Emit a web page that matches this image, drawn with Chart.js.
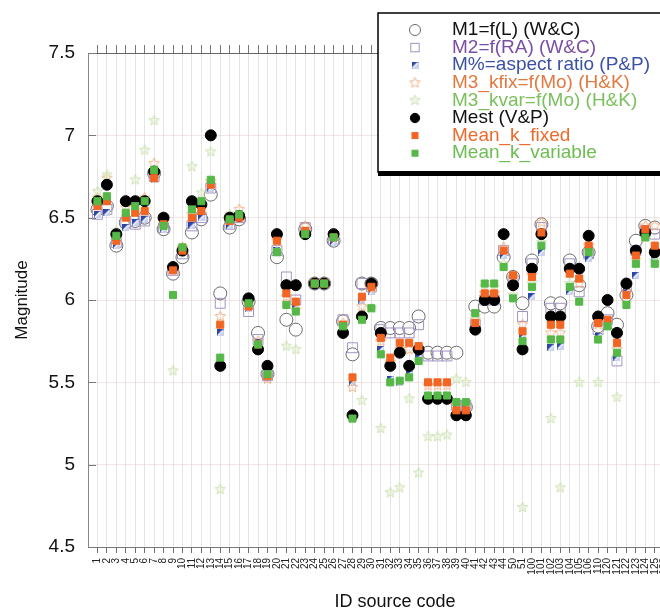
<!DOCTYPE html>
<html>
<head>
<meta charset="utf-8">
<script src="https://cdn.jsdelivr.net/npm/chart.js@4.4.0/dist/chart.umd.min.js"></script>
<style>
  html, body { margin: 0; padding: 0; background: #fff; overflow: hidden; }
  #wrap { width: 720px; height: 613px; }
</style>
</head>
<body>
<div id="wrap"><canvas id="magChart" width="720" height="613"></canvas></div>
<script>
// source ids along the x axis
const xLabels = [
  '1','2','3','4','5','6','7','8','9','10','11','12','13','14','15','16','17','18','19','20',
  '21','22','23','24','25','26','27','28','29','30','31','32','33','34','35','36','37','38','39','40',
  '41','42','43','44','50','51','100','101','102','103','104','105','106','110','120','121','122','123','124','125',
  '130','131','132','133'
];
const yTicks = [4.5, 5, 5.5, 6, 6.5, 7, 7.5];

// magnitudes per method
const m1 = [6.55,6.57,6.33,6.47,6.48,6.50,6.77,6.43,6.16,6.26, 6.41,6.49,6.64,6.04,6.44,6.49,5.99,5.80,5.55,6.26,
  5.88,5.82,6.43,6.10,6.10,6.36,5.87,5.67,6.10,6.10, 5.83,5.83,5.83,5.83,5.90,5.68,5.68,5.68,5.68,5.35,
  5.96,5.96,5.96,6.26,6.14,5.98,6.24,6.46,5.98,5.98, 6.24,6.09,6.29,5.84,5.92,5.85,6.03,6.36,6.45,6.44];
const m2 = [6.52,6.55,6.35,6.47,6.46,6.48,6.75,6.44,6.18,6.28, 6.45,6.50,6.68,5.98,6.46,6.50,5.93,5.76,5.54,6.30,
  6.14,6.00,6.44,6.10,6.10,6.37,5.88,5.71,6.10,6.08, 5.82,5.80,5.80,5.80,5.85,5.66,5.66,5.66,5.36,5.36,
  5.85,6.00,6.00,6.30,6.12,5.90,6.22,6.44,5.95,5.95, 6.22,6.05,6.28,5.82,5.88,5.63,6.08,6.30,6.42,6.40];
const mPct = [6.52,6.53,6.33,6.44,6.47,6.49,6.73,6.43,6.18,6.29, 6.45,6.50,6.68,5.80,6.45,6.50,5.95,5.74,5.56,6.30,
  6.05,5.96,6.42,6.10,6.10,6.35,5.85,5.50,6.00,6.05, 5.70,5.52,5.50,5.55,5.65,5.42,5.42,5.42,5.35,5.35,
  5.83,6.02,6.02,6.27,6.10,5.78,6.02,6.29,5.71,5.72, 6.05,5.99,6.25,5.78,5.84,5.65,6.05,6.15,6.38,6.25];
const m3Kfix = [6.62,6.74,6.38,6.56,6.58,6.62,6.83,6.48,6.20,6.32, 6.52,6.56,6.72,5.90,6.50,6.55,5.97,5.75,5.52,6.36,
  6.02,5.94,6.45,6.11,6.11,6.40,5.86,5.47,5.96,6.07, 5.75,5.62,5.70,5.70,5.70,5.48,5.48,5.48,5.36,5.36,
  5.88,6.04,6.04,6.32,6.14,5.85,6.15,6.47,5.80,5.80, 6.18,6.10,6.33,5.85,5.86,5.70,6.05,6.30,6.45,6.45];
const m3Kvar = [6.66,6.76,6.42,6.60,6.73,6.91,7.09,6.47,5.57,6.30, 6.81,6.65,6.90,4.85,6.52,6.52,6.01,5.70,5.55,6.30,
  5.72,5.70,6.40,6.10,6.10,6.40,5.83,5.30,5.39,5.95, 5.22,4.83,4.86,5.40,4.95,5.17,5.17,5.18,5.52,5.50,
  5.90,6.08,6.08,6.22,6.03,4.74,6.10,6.35,5.28,4.86, 6.10,5.50,6.30,5.50,5.85,5.41,5.98,6.24,6.38,6.24];
const mEst = [6.60,6.70,6.40,6.60,6.60,6.60,6.78,6.50,6.20,6.30, 6.60,6.58,7.00,5.60,6.50,6.51,6.01,5.70,5.60,6.40,
  6.09,6.09,6.40,6.10,6.10,6.40,5.80,5.30,5.90,6.10, 5.80,5.60,5.68,5.60,5.70,5.40,5.40,5.40,5.30,5.30,
  5.82,6.00,6.00,6.40,6.09,5.70,6.19,6.40,5.90,5.90, 6.19,6.19,6.39,5.90,6.00,5.80,6.10,6.30,6.41,6.29];
const meanKFixed = [6.57,6.60,6.36,6.50,6.53,6.54,6.74,6.46,6.18,6.30, 6.50,6.54,6.70,5.85,6.48,6.50,5.96,5.73,5.54,6.36,
  6.04,5.99,6.42,6.10,6.10,6.38,5.85,5.53,6.02,6.08, 5.77,5.65,5.74,5.74,5.72,5.50,5.50,5.50,5.33,5.33,
  5.86,6.04,6.04,6.30,6.15,5.81,6.14,6.41,5.85,5.85, 6.16,6.13,6.33,5.86,5.88,5.74,6.03,6.27,6.43,6.33];
const meanKVar = [6.60,6.63,6.39,6.53,6.57,6.60,6.79,6.45,6.03,6.32, 6.55,6.60,6.73,5.65,6.49,6.52,5.98,5.73,5.55,6.29,
  5.97,5.93,6.40,6.10,6.10,6.38,5.84,5.28,5.88,5.95, 5.67,5.50,5.51,5.53,5.63,5.42,5.42,5.42,5.38,5.38,
  5.92,6.10,6.10,6.20,6.01,5.75,6.08,6.33,5.76,5.76, 6.08,5.99,6.29,5.76,5.84,5.68,5.97,6.22,6.38,6.22];

const FONT = '"Liberation Sans", Arial, Helvetica, sans-serif';

function makeStar(size, stroke, fill) {
  const c = document.createElement('canvas');
  c.width = c.height = size;
  const g = c.getContext('2d');
  const cx = size / 2, cy = size / 2, ro = size / 2 - 1, ri = ro * 0.45;
  g.beginPath();
  for (let i = 0; i < 10; i++) {
    const r = i % 2 ? ri : ro;
    const a = -Math.PI / 2 + i * Math.PI / 5;
    g.lineTo(cx + r * Math.cos(a), cy + r * Math.sin(a));
  }
  g.closePath();
  if (fill) { g.fillStyle = fill; g.fill(); }
  g.strokeStyle = stroke;
  g.lineWidth = 1;
  g.stroke();
  return c;
}

function makeHalfSquare(size) {
  const c = document.createElement('canvas');
  c.width = c.height = size;
  const g = c.getContext('2d');
  g.fillStyle = '#c9d1ef';
  g.fillRect(0, 0, size, size);
  g.fillStyle = '#2b46a6';
  g.beginPath();
  g.moveTo(0, 0); g.lineTo(size, 0); g.lineTo(0, size);
  g.closePath();
  g.fill();
  g.strokeStyle = '#fff';
  g.lineWidth = 1.2;
  g.beginPath();
  g.moveTo(1, size - 1); g.lineTo(size - 1, 1);
  g.stroke();
  return c;
}

const toPoints = arr => arr.map((v, i) => ({ x: i + 1, y: v }));

const series = [
  { label: 'M1=f(L) (W&C)', data: m1, color: '#111', pointStyle: 'circle', radius: 6.5, bg: '#fff', border: '#6b6b6b' },
  { label: 'M2=f(RA) (W&C)', data: m2, color: '#7b4ea6', pointStyle: 'rect', radius: 7, bg: 'rgba(255,255,255,0)', border: '#a193c2' },
  { label: 'M%=aspect ratio (P&P)', data: mPct, color: '#3a51a6', pointStyle: makeHalfSquare(7), radius: 4 },
  { label: 'M3_kfix=f(Mo) (H&K)', data: m3Kfix, color: '#e27a40', pointStyle: makeStar(13, 'rgba(240,160,110,0.8)', 'rgba(255,255,255,0)'), radius: 6 },
  { label: 'M3_kvar=f(Mo) (H&K)', data: m3Kvar, color: '#7cc05e', pointStyle: makeStar(13, 'rgba(200,222,170,0.8)', 'rgba(220,236,200,0.45)'), radius: 6 },
  { label: 'Mest (V&P)', data: mEst, color: '#111', pointStyle: 'circle', radius: 5.5, bg: '#000', border: '#000' },
  { label: 'Mean_k_fixed', data: meanKFixed, color: '#ee6a2b', pointStyle: 'rect', radius: 5, bg: '#f26522', border: '#f26522' },
  { label: 'Mean_k_variable', data: meanKVar, color: '#6dbd52', pointStyle: 'rect', radius: 5, bg: '#55b847', border: '#55b847' }
];

const datasets = series.map((s, i) => ({
  label: s.label,
  data: toPoints(s.data),
  pointStyle: s.pointStyle,
  pointRadius: s.radius,
  pointBackgroundColor: s.bg || '#fff',
  pointBorderColor: s.border || '#fff',
  pointBorderWidth: 1,
  textColor: s.color,
  order: series.length - i
}));

const ticksFromLabels = scale => {
  scale.ticks = xLabels.map((_, i) => ({ value: i + 1 }));
};

// little tick stubs inside the plot on the y axis
const innerTicks = {
  id: 'innerTicks',
  beforeDatasetsDraw(chart) {
    const { ctx, chartArea, scales } = chart;
    ctx.save();
    ctx.strokeStyle = '#7a7a7a';
    ctx.lineWidth = 1;
    yTicks.forEach(v => {
      const y = Math.round(scales.y.getPixelForValue(v)) + 0.5;
      ctx.beginPath();
      ctx.moveTo(chartArea.left, y);
      ctx.lineTo(chartArea.left + 8, y);
      ctx.stroke();
    });
    ctx.restore();
  }
};

// boxed legend in the top right, text coloured per series
const legendBox = {
  id: 'legendBox',
  afterDraw(chart) {
    const ctx = chart.ctx;
    const left = 378, top = 13, bottom = 172, right = chart.width + 20;
    ctx.save();
    ctx.fillStyle = '#fff';
    ctx.fillRect(left, top, right - left, bottom - top);
    ctx.strokeStyle = '#000';
    ctx.lineWidth = 1.5;
    ctx.strokeRect(left, top, right - left, bottom - top);
    ctx.fillStyle = '#000';
    ctx.fillRect(left, bottom - 1, right - left, 5);

    ctx.font = '19px ' + FONT;
    ctx.textBaseline = 'middle';
    chart.data.datasets.forEach((ds, i) => {
      const y = 30 + i * 17.6;
      const sx = 415;
      const st = ds.pointStyle;
      const r = ds.pointRadius * 0.85;
      if (st instanceof HTMLCanvasElement) {
        ctx.drawImage(st, sx - st.width / 2, y - st.height / 2);
      } else if (st === 'circle') {
        ctx.beginPath();
        ctx.arc(sx, y, r, 0, Math.PI * 2);
        ctx.fillStyle = ds.pointBackgroundColor;
        ctx.fill();
        ctx.strokeStyle = ds.pointBorderColor;
        ctx.lineWidth = 1;
        ctx.stroke();
      } else {
        const h = r * Math.SQRT1_2;
        ctx.fillStyle = ds.pointBackgroundColor;
        ctx.fillRect(sx - h, y - h, 2 * h, 2 * h);
        ctx.strokeStyle = ds.pointBorderColor;
        ctx.lineWidth = 1;
        ctx.strokeRect(sx - h, y - h, 2 * h, 2 * h);
      }
      ctx.fillStyle = ds.textColor;
      ctx.fillText(ds.label, 452, y);
    });
    ctx.restore();
  }
};

const ctx = document.getElementById('magChart').getContext('2d');
new Chart(ctx, {
  type: 'scatter',
  data: { datasets: datasets },
  options: {
    responsive: false,
    animation: false,
    layout: { padding: { top: 45, right: 18, left: 0, bottom: 0 } },
    plugins: { legend: { display: false }, tooltip: { enabled: false } },
    scales: {
      x: {
        type: 'linear',
        position: 'bottom',
        min: 0,
        max: xLabels.length + 1,
        afterBuildTicks: ticksFromLabels,
        afterFit: s => { s.height = 66; },
        ticks: {
          autoSkip: false,
          maxRotation: 90,
          minRotation: 90,
          padding: 5,
          color: '#222',
          font: { family: FONT, size: 10 },
          callback: v => xLabels[v - 1]
        },
        grid: { color: '#e4e4e4', tickColor: '#6e6e6e', tickLength: 6 },
        border: { color: '#777' },
        title: {
          display: true,
          text: 'ID source code',
          color: '#111',
          font: { family: FONT, size: 18 },
          padding: { top: 0, bottom: 0 }
        }
      },
      xTop: {
        type: 'linear',
        position: 'top',
        min: 0,
        max: xLabels.length + 1,
        afterBuildTicks: ticksFromLabels,
        afterFit: s => { s.height = 8; },
        ticks: { display: false },
        grid: { drawOnChartArea: false, tickLength: 8, tickColor: '#777', color: '#777' },
        border: { color: '#666' }
      },
      y: {
        min: 4.5,
        max: 7.5,
        afterBuildTicks: s => { s.ticks = yTicks.map(v => ({ value: v })); },
        afterFit: s => { s.width = 88; },
        ticks: {
          padding: 13,
          color: '#111',
          font: { family: FONT, size: 19 },
          callback: v => String(v)
        },
        grid: { color: 'rgba(228,205,205,0.5)', drawTicks: false },
        border: { color: '#888' },
        title: {
          display: true,
          text: 'Magnitude',
          color: '#111',
          font: { family: FONT, size: 17 },
          padding: { top: 12, bottom: 0 }
        }
      }
    }
  },
  plugins: [innerTicks, legendBox]
});
</script>
</body>
</html>
